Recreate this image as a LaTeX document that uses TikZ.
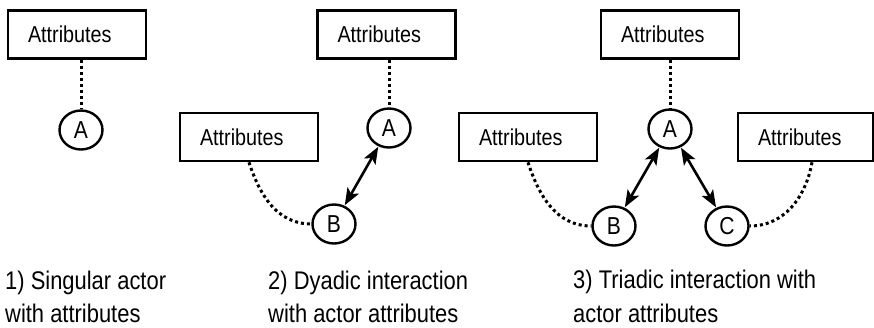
\documentclass[tikz,border=0pt]{standalone}
\usepackage{fontspec}
\setmainfont[FakeStretch=0.86]{Liberation Sans}
\usetikzlibrary{shapes.geometric,arrows.meta}
\tikzset{
  attrbox/.style={draw, line width=2.6pt, minimum height=48pt, text width=98pt, inner xsep=20pt, inner ysep=0pt, align=left, font=\fontsize{23}{26}\selectfont},
  actor/.style={draw, ellipse, line width=2.4pt, minimum width=43pt, minimum height=39pt, inner sep=0pt, font=\fontsize{24.5}{26}\selectfont},
  dotline/.style={line width=3pt, dash pattern=on 3pt off 3pt},
  biarrow/.style={line width=2.6pt, {Stealth[length=17pt,width=13pt,inset=4pt]}-{Stealth[length=17pt,width=13pt,inset=4pt]}, shorten <=0.5pt, shorten >=0.5pt},
  caption/.style={anchor=base west, inner sep=0pt, font=\fontsize{25.5}{30}\selectfont}
}
\begin{document}
\begin{tikzpicture}[x=1pt,y=-1pt]
\useasboundingbox (0,0) rectangle (874,327);
% Panel 1
\node[attrbox] (box1) at (77,34.5) {Attributes};
\node[actor] (A1) at (81,130) {A};
\draw[dotline] (box1.south -| A1) -- (A1.north);
\node[caption] (cap1a) at (5,289) {1) Singular actor};
\node[caption] (cap1b) at (5,322) {with attributes};
% Panel 2
\node[attrbox] (boxL2) at (249,137) {Attributes};
\node[attrbox] (boxT2) at (386.5,34.5) {Attributes};
\node[actor] (A2) at (389,128) {A};
\node[actor] (B2) at (334,224) {B};
\draw[dotline] (boxT2.south -| A2) -- (A2.north);
\draw[dotline] (boxL2.south) to[out=-72,in=180] (B2.west);
\draw[biarrow] (A2) -- (B2);
\node[caption] (cap2a) at (268,289) {2) Dyadic interaction};
\node[caption] (cap2b) at (268,322) {with actor attributes};
% Panel 3
\node[attrbox] (boxL3) at (528,137) {Attributes};
\node[attrbox] (boxT3) at (670,34.5) {Attributes};
\node[attrbox, text width=95pt] (boxR3) at (805.5,137) {Attributes};
\node[actor] (A3) at (670,129) {A};
\node[actor] (B3) at (614,226) {B};
\node[actor] (C3) at (727,226) {C};
\draw[dotline] (boxT3.south -| A3) -- (A3.north);
\draw[dotline] (boxL3.south) to[out=-72,in=180] (B3.west);
\draw[dotline] ([xshift=6.5pt]boxR3.south) to[out=-100,in=0] (C3.east);
\draw[biarrow] (A3) -- (B3);
\draw[biarrow] (A3) -- (C3);
\node[caption] (cap3a) at (573,288) {3) Triadic interaction with};
\node[caption] (cap3b) at (573,322) {actor attributes};
\end{tikzpicture}
\end{document}
